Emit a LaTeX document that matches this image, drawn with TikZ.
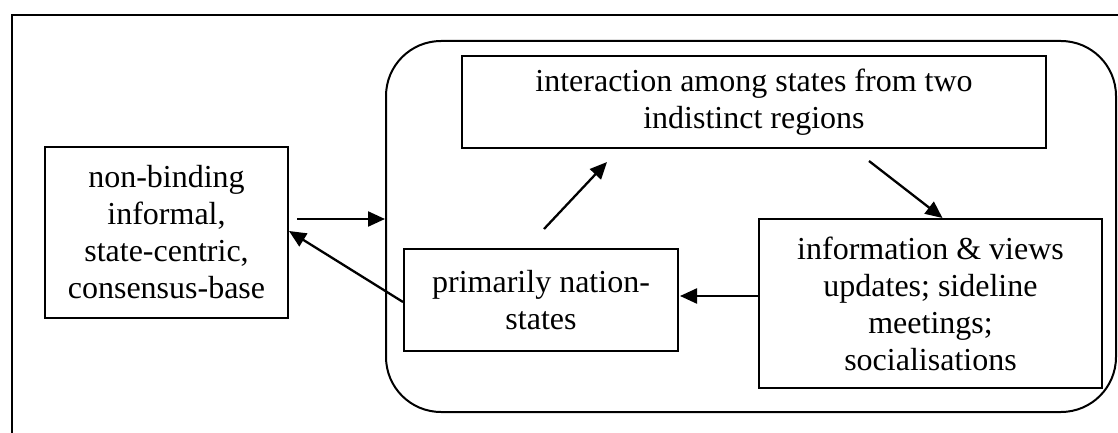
\documentclass[tikz,border=0pt]{standalone}
\usepackage{fontspec}
\setmainfont{Liberation Serif}
\usetikzlibrary{arrows.meta}
\begin{document}
\begin{tikzpicture}[x=1pt,y=-1pt,
  box/.style={draw,line width=2pt,inner sep=0pt,align=center,
    font=\fontsize{32}{37}\selectfont},
  arr/.style={line width=2.3pt,-{Triangle[length=17pt,width=15pt]}}]
\useasboundingbox (0,0) rectangle (1118,433);
% open frame: top and left edges only
\draw[line width=2.2pt] (12,433) -- (12,15) -- (1118,15);
% rounded grouping box
\node[draw,line width=2pt,rounded corners=55pt,minimum width=730pt,
  minimum height=371pt,inner sep=0pt] (grp) at (751,226.5) {};
% boxes
\node[box,minimum width=243pt,minimum height=171pt] (nb) at (166.5,232.5)
  {non-binding\\informal,\\state-centric,\\consensus-base};
\node[box,minimum width=584pt,minimum height=92pt] (top) at (754,102)
  {interaction among states from two\\indistinct regions};
\node[box,minimum width=274pt,minimum height=102pt] (ns) at (541,300)
  {primarily nation-\\states};
\node[box,minimum width=343pt,minimum height=169pt] (info) at (930.5,303.5)
  {information \& views\\updates; sideline\\meetings;\\socialisations};
% connectors
\coordinate (a1) at ([xshift=8pt,yshift=13.5pt]nb.east);
\draw[arr] (a1) -- (a1 -| grp.west);
\draw[arr] ([yshift=-2pt]ns.west) -- ([yshift=1.5pt]nb.east);
\draw[arr] ([xshift=3pt,yshift=19pt]ns.north) -- ([xshift=-147pt,yshift=-13pt]top.south);
\draw[arr] ([xshift=115pt,yshift=-12pt]top.south) -- ([xshift=12pt]info.north);
\draw[arr] ([yshift=7.5pt]info.west) -- ([xshift=1pt,yshift=4pt]ns.east);
\end{tikzpicture}
\end{document}
